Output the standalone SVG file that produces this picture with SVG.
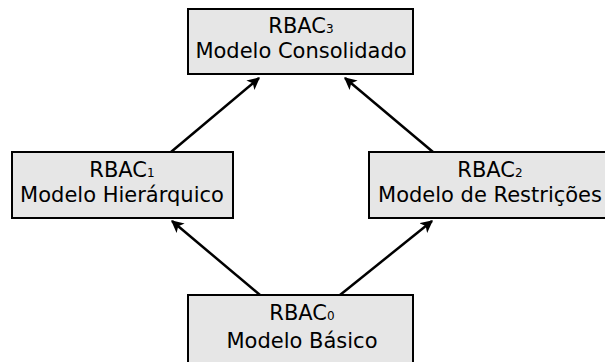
<svg xmlns="http://www.w3.org/2000/svg" width="605" height="362" viewBox="0 0 605 362">
  <style>
    .box { fill: #e6e6e6; stroke: #000; stroke-width: 2; }
    .lbl { font-family: "DejaVu Sans", sans-serif; font-size: 21px; fill: #000; text-anchor: middle; }
    .sub { font-size: 12px; }
    .edge { stroke: #000; stroke-width: 2.5; fill: none; marker-end: url(#head); }
  </style>
  <defs>
    <marker id="head" viewBox="0 0 10 10" refX="9" refY="5" markerWidth="5" markerHeight="5" orient="auto" markerUnits="strokeWidth">
      <path d="M0,0 L10,5 L0,10 L2.5,5 Z" fill="#000"/>
    </marker>
  </defs>
  <rect width="605" height="362" fill="#fff"/>

  <g id="connectors">
    <line class="edge" x1="171" y1="152" x2="259" y2="78"/>
    <line class="edge" x1="433" y1="152" x2="345" y2="78"/>
    <line class="edge" x1="260" y1="295" x2="172" y2="221"/>
    <line class="edge" x1="340" y1="295" x2="432" y2="221"/>
  </g>

  <g id="rbac3">
    <rect class="box" x="188" y="9" width="225" height="65"/>
    <text class="lbl" x="301" y="33">RBAC<tspan class="sub">3</tspan></text>
    <text class="lbl" x="301" y="58">Modelo Consolidado</text>
  </g>

  <g id="rbac1">
    <rect class="box" x="12" y="152" width="221" height="66"/>
    <text class="lbl" x="122" y="177">RBAC<tspan class="sub">1</tspan></text>
    <text class="lbl" x="122" y="202">Modelo Hierárquico</text>
  </g>

  <g id="rbac2">
    <rect class="box" x="369" y="152" width="240" height="66"/>
    <text class="lbl" x="490" y="177">RBAC<tspan class="sub">2</tspan></text>
    <text class="lbl" x="490" y="202">Modelo de Restrições</text>
  </g>

  <g id="rbac0">
    <rect class="box" x="188" y="295" width="225" height="75"/>
    <text class="lbl" x="302" y="320">RBAC<tspan class="sub">0</tspan></text>
    <text class="lbl" x="302" y="348">Modelo Básico</text>
  </g>
</svg>
